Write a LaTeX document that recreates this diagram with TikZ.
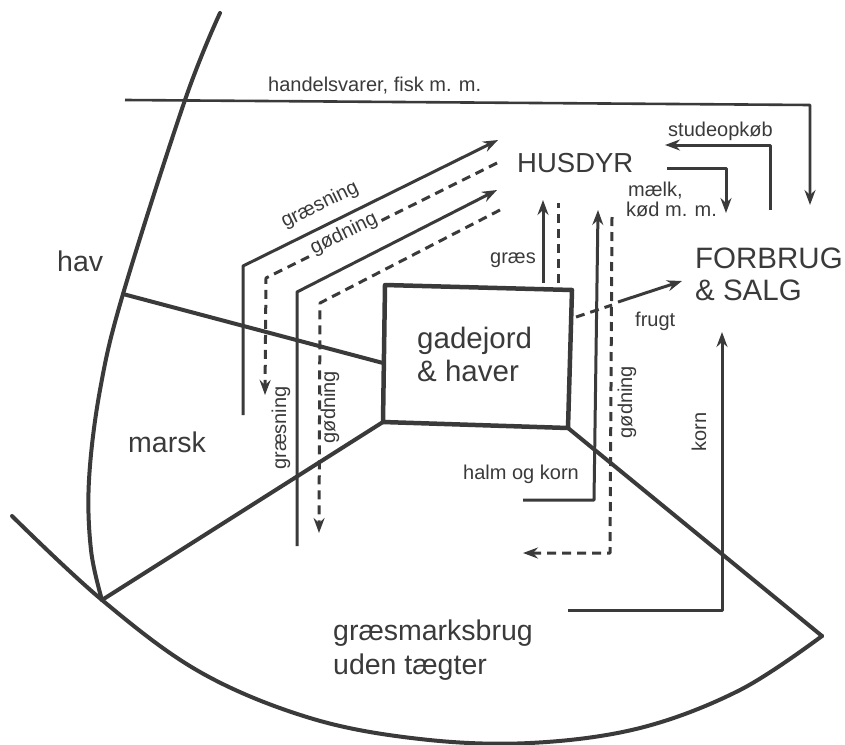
\documentclass[tikz,border=0pt]{standalone}
\usepackage{fontspec}
\setmainfont{Liberation Sans}
\usetikzlibrary{arrows.meta}
\definecolor{ink}{HTML}{3A3A3A}
\begin{document}
\begin{tikzpicture}[x=1pt,y=-1pt,
  region/.style={draw=ink, line width=4pt, line cap=round, line join=round},
  flow/.style={draw=ink, line width=3pt, line join=round, -{Stealth[length=15pt,width=11pt,inset=5pt]}},
  dflow/.style={flow, dash pattern=on 9pt off 6pt},
  dline/.style={draw=ink, line width=3pt, dash pattern=on 9pt off 6pt},
  big/.style={font=\fontsize{28.5}{33}\selectfont, text=ink, inner sep=0pt},
  bigger/.style={font=\fontsize{29.5}{34}\selectfont, text=ink, inner sep=0pt},
  small/.style={font=\fontsize{20}{23}\selectfont, text=ink, inner sep=0pt}]
\useasboundingbox (0,0) rectangle (845,744);
% key points
\coordinate (cj) at (123,294);
\coordinate (aj) at (102,600);
\coordinate (aR) at (822,636);
\coordinate (bTL) at (385,285);
\coordinate (bTR) at (572,290);
\coordinate (bBR) at (568,428);
\coordinate (bBL) at (383,422);
\coordinate (bL) at (383,363);
% coast and outer arc
\draw[region] plot[smooth, tension=0.6] coordinates {(220,13) (185,100) (123,294) (100,390) (89,480) (91,550) (102,600)};
\draw[region] plot[smooth, tension=0.6] coordinates {(12,516) (102,600) (200,672) (310,718) (420,739) (530,743) (640,728) (740,690) (822,636)};
% region boundaries
\draw[region] (cj) -- (bL);
\draw[region] (bBL) -- (aj);
\draw[region] (bBR) -- (aR);
\draw[draw=ink, line width=4.5pt, line join=round] (bTL) -- (bTR) -- (bBR) -- (bBL) -- cycle;
% top trade line
\coordinate (t1) at (125,100);
\coordinate (t2) at (810,105);
\coordinate (t3) at (810,205);
\draw[flow, line width=2.6pt] (t1) -- (t2) -- (t3);
% studeopkob
\coordinate (s1) at (770,210);
\coordinate (s2) at (770,145);
\coordinate (s3) at (665,145);
\draw[flow] (s1) -- (s2) -- (s3);
% maelk
\coordinate (m1) at (667,168);
\coordinate (m2) at (726,168);
\coordinate (m3) at (726,213);
\draw[flow] (m1) -- (m2) -- (m3);
% graes
\coordinate (g1) at (543,283);
\coordinate (g2) at (543,200);
\draw[flow] (g1) -- (g2);
\coordinate (gd1) at (558,283);
\coordinate (gd2) at (558,203);
\draw[dline] (gd1) -- (gd2);
% halm og korn
\coordinate (h1) at (523,500);
\coordinate (h2) at (594,500);
\coordinate (h3) at (598,210);
\draw[flow] (h1) -- (h2) -- (h3);
% right godning
\coordinate (r1) at (612,217);
\coordinate (r2) at (610,553);
\coordinate (r3) at (523,553);
\draw[dflow] (r1) -- (r2) -- (r3);
% korn
\coordinate (k1) at (568,610);
\coordinate (k2) at (722,610);
\coordinate (k3) at (722,332);
\draw[flow] (k1) -- (k2) -- (k3);
% frugt
\coordinate (f1) at (576,317);
\coordinate (f2) at (612,305);
\coordinate (f3) at (618,302);
\coordinate (f4) at (682,281);
\draw[dline] (f1) -- (f2);
\draw[flow] (f3) -- (f4);
% left flows
\coordinate (a1) at (243,415);
\coordinate (a2) at (243,266);
\coordinate (a3) at (498,140);
\draw[flow] (a1) -- (a2) -- (a3);
\coordinate (d1) at (497,163);
\coordinate (d2) at (266,278);
\coordinate (d3) at (265,395);
\draw[dflow] (d1) -- (d2) -- (d3);
\coordinate (e1) at (297,546);
\coordinate (e2) at (297,292);
\coordinate (e3) at (497,190);
\draw[flow] (e1) -- (e2) -- (e3);
\coordinate (q1) at (500,210);
\coordinate (q2) at (320,303);
\coordinate (q3) at (319,533);
\draw[dflow] (q1) -- (q2) -- (q3);
% texts
\node[small, anchor=base west] (thandel) at (268,91) {handelsvarer, fisk m. m.};
\node[small, anchor=base west] (tstude) at (668,136) {studeopkøb};
\node[big, font=\fontsize{27.5}{32}\selectfont, anchor=base west] (thus) at (517,172) {HUSDYR};
\node[small, anchor=base west] (tmaelk) at (628,196) {mælk,};
\node[small, anchor=base west] (tkod) at (626,216) {kød m. m.};
\node[bigger, anchor=base west] (tforb) at (695,268) {FORBRUG};
\node[bigger, anchor=base west] (tsalg) at (695,300) {\& SALG};
\node[big, anchor=base west] (thav) at (57,271) {hav};
\node[small, anchor=base west] (tgraes) at (490,263) {græs};
\node[small, anchor=base west] (tfrugt) at (635,326) {frugt};
\node[bigger, anchor=base west] (tgade) at (417,348) {gadejord};
\node[bigger, anchor=base west] (thaver) at (417,381) {\& haver};
\node[big, anchor=base west] (tmarsk) at (128,452) {marsk};
\node[small, anchor=base west] (thalm) at (463,479) {halm og korn};
\node[big, anchor=base west] (tgm1) at (333,640) {græsmarksbrug};
\node[big, anchor=base west] (tgm2) at (333,674) {uden tægter};
\node[small, rotate=26] (lg1) at (320,205) {græsning};
\node[small, rotate=26, fill=white, inner xsep=1pt] (lg2) at (344,234) {gødning};
\node[small, rotate=90] (lg3) at (281,428) {græsning};
\node[small, rotate=90] (lg4) at (330,407) {gødning};
\node[small, rotate=90] (lg5) at (627,402) {gødning};
\node[small, rotate=90] (lg6) at (699,432) {korn};
\end{tikzpicture}
\end{document}
